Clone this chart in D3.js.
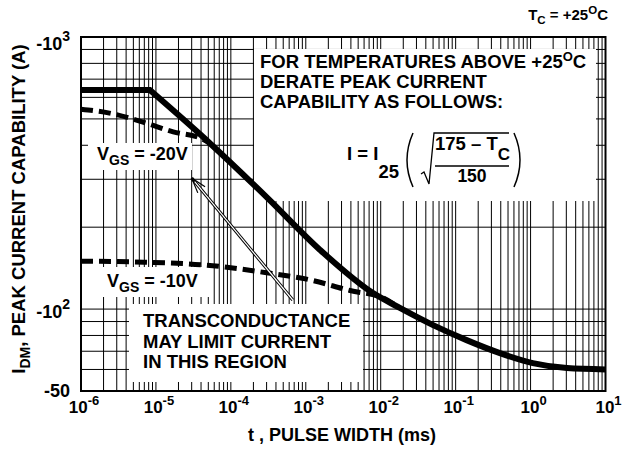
<!DOCTYPE html>
<meta charset="utf-8">
<html>
<head>
<style>
  body { margin: 0; background: #fff; }
  text { font-family: "Liberation Sans", Arial, sans-serif; font-weight: bold; fill: #000; }
</style>
</head>
<body>
<div id="chart"></div>
<script src="https://d3js.org/d3.v7.min.js"></script>
<script>
// pulse width (ms) vs peak current magnitude (A)
var solidT = [1e-6, 8.3e-6, 5.2e-5, 3.0e-4, 1.55e-3, 7.9e-3, 0.018, 0.05, 0.14, 0.39, 1.07, 3.06, 10];
var solidI = [638, 638, 408, 258, 165, 114.5, 101, 87.3, 76.9, 68.9, 63.3, 60.7, 60];

var vgs20T = [1e-6, 2.4e-6, 6.7e-6, 1.7e-5, 3.9e-5, 5.2e-5];
var vgs20I = [543, 525, 487, 448, 425, 408];

var vgs10T = [1e-6, 4.9e-6, 4.8e-5, 3.0e-4, 1.15e-3, 3.9e-3, 0.0107, 0.016];
var vgs10I = [150, 149, 145, 136, 128, 117, 110, 103];

// axis ticks
var xDecades = [1e-6, 1e-5, 1e-4, 1e-3, 1e-2, 1e-1, 1e0, 1e1];
var xExp = ["-6", "-5", "-4", "-3", "-2", "-1", "0", "1"];
var yTicks = [1000, 100, 50];
var yBase = ["-10", "-10", "-50"];
var yExp = ["3", "2", ""];

// annotation text
var noteLines = ["FOR TEMPERATURES ABOVE +25", "DERATE PEAK CURRENT", "CAPABILITY AS FOLLOWS:"];
var regionLines = ["TRANSCONDUCTANCE", "MAY LIMIT CURRENT", "IN THIS REGION"];
// arrow from the region note up to the curves (tail, tip)
var arrowT = [6.7e-4, 3.0e-5];
var arrowI = [108, 303];

var W = 625, H = 450;
var margin = {top: 37, right: 19.5, bottom: 59, left: 81};

var svg = d3.select("#chart").append("svg")
    .attr("width", W).attr("height", H);

var x = d3.scaleLog().domain([1e-6, 10]).range([margin.left, W - margin.right]);
var y = d3.scaleLog().domain([50, 1000]).range([H - margin.bottom, margin.top]);

// grid
var vLines = [];
for (var e = -6; e < 1; e++) {
  for (var k = 1; k <= 9; k++) vLines.push(k * Math.pow(10, e));
}
vLines.push(10);
var hLines = [50, 60, 70, 80, 90, 100, 200, 300, 400, 500, 600, 700, 800, 900, 1000];

var grid = svg.append("g").attr("stroke", "#000").attr("stroke-width", 1);
grid.selectAll(".v").data(vLines).enter().append("line")
    .attr("x1", d => x(d)).attr("x2", d => x(d))
    .attr("y1", y(1000)).attr("y2", y(50));
grid.selectAll(".h").data(hLines).enter().append("line")
    .attr("y1", d => y(d)).attr("y2", d => y(d))
    .attr("x1", x(1e-6)).attr("x2", x(10));

// white boxes behind notes
svg.append("rect").attr("x", 254).attr("y", 49).attr("width", 342).attr("height", 152).attr("fill", "#fff");
svg.append("rect").attr("x", 88).attr("y", 143).attr("width", 104).attr("height", 27).attr("fill", "#fff");
svg.append("rect").attr("x", 100).attr("y", 267).attr("width", 110).attr("height", 30).attr("fill", "#fff");
svg.append("rect").attr("x", 129).attr("y", 304).attr("width", 234).attr("height", 78).attr("fill", "#fff");

// frame
svg.append("rect")
    .attr("x", x(1e-6)).attr("y", y(1000))
    .attr("width", x(10) - x(1e-6)).attr("height", y(50) - y(1000))
    .attr("fill", "none").attr("stroke", "#000").attr("stroke-width", 2);

// curves
function pts(T, I) { return T.map((t, i) => [x(t), y(I[i])]); }

var smooth = d3.line().curve(d3.curveMonotoneX);
var sp = pts(solidT, solidI);
// keep the sharp knee: flat part straight, then the smooth fall
var solidPath = "M" + sp[0][0] + "," + sp[0][1] + "L" + smooth(sp.slice(1)).slice(1);
svg.append("path").attr("d", solidPath)
    .attr("fill", "none").attr("stroke", "#000").attr("stroke-width", 6)
    .attr("stroke-linejoin", "miter");

[[vgs20T, vgs20I], [vgs10T, vgs10I]].forEach(function(s) {
  svg.append("path").attr("d", smooth(pts(s[0], s[1])))
      .attr("fill", "none").attr("stroke", "#000").attr("stroke-width", 5)
      .attr("stroke-dasharray", "12,6");
});

// arrow: hollow shaft
var tail = [x(arrowT[0]), y(arrowI[0])], tip = [x(arrowT[1]), y(arrowI[1])];
svg.append("line").attr("x1", tail[0]).attr("y1", tail[1]).attr("x2", tip[0]).attr("y2", tip[1])
    .attr("stroke", "#000").attr("stroke-width", 3.2);
svg.append("line").attr("x1", tail[0]).attr("y1", tail[1]).attr("x2", tip[0] + 3).attr("y2", tip[1] + 3.5)
    .attr("stroke", "#fff").attr("stroke-width", 1.2);
var ang = Math.atan2(tail[1] - tip[1], tail[0] - tip[0]);
[-0.3, 0.3].forEach(function(da) {
  svg.append("line").attr("x1", tip[0]).attr("y1", tip[1])
      .attr("x2", tip[0] + 16 * Math.cos(ang + da)).attr("y2", tip[1] + 16 * Math.sin(ang + da))
      .attr("stroke", "#000").attr("stroke-width", 1.2);
});

// x tick labels
var xl = svg.append("g").attr("font-size", 17).attr("text-anchor", "middle");
xDecades.forEach(function(d, i) {
  var t = xl.append("text").attr("x", x(d) + 3).attr("y", 413);
  t.append("tspan").text("10");
  t.append("tspan").attr("dy", -8).attr("font-size", 13).text(xExp[i]);
});

// y tick labels
var yOff = [13, 9, 6];
var yl = svg.append("g").attr("font-size", 18).attr("text-anchor", "end");
yTicks.forEach(function(d, i) {
  var t = yl.append("text").attr("x", 70).attr("y", y(d) + yOff[i]);
  t.append("tspan").text(yBase[i]);
  if (yExp[i]) t.append("tspan").attr("dy", -9).attr("font-size", 14).text(yExp[i]);
});

// axis titles
svg.append("text").attr("x", 342).attr("y", 441).attr("font-size", 18)
    .attr("text-anchor", "middle").text("t , PULSE WIDTH (ms)");
var yt = svg.append("text").attr("transform", "translate(25,209) rotate(-90)")
    .attr("font-size", 18.5).attr("text-anchor", "middle");
yt.append("tspan").text("I");
yt.append("tspan").attr("dy", 5).attr("font-size", 14).text("DM");
yt.append("tspan").attr("dy", -5).text(", PEAK CURRENT CAPABILITY (A)");

// case temperature
var tc = svg.append("text").attr("x", 608).attr("y", 20).attr("font-size", 15).attr("text-anchor", "end");
tc.append("tspan").text("T");
tc.append("tspan").attr("dy", 4).attr("font-size", 11.5).text("C");
tc.append("tspan").attr("dy", -4).text(" = +25");
tc.append("tspan").attr("dy", -6).attr("font-size", 11.5).text("O");
tc.append("tspan").attr("dy", 6).text("C");

// derating note
var nt = svg.append("g").attr("font-size", 18.5);
noteLines.forEach(function(s, i) {
  var t = nt.append("text").attr("x", 260).attr("y", 68 + i * 20);
  t.append("tspan").text(s);
  if (i === 0) {
    t.append("tspan").attr("dy", -7).attr("font-size", 13).text("O");
    t.append("tspan").attr("dy", 7).text("C");
  }
});

// formula I = I25 ( sqrt((175 - Tc)/150) )
var f = svg.append("g").attr("font-size", 18.5);
var f1 = f.append("text").attr("x", 347).attr("y", 160);
f1.append("tspan").text("I  =  I");
f1.append("tspan").attr("dy", 18).text("25");
var num = f.append("text").attr("x", 435).attr("y", 150);
num.append("tspan").text("175 \u2013 T");
num.append("tspan").attr("dy", 10).attr("font-size", 17).text("C");
f.append("text").attr("x", 472).attr("y", 182).attr("font-size", 17.5).attr("text-anchor", "middle").text("150");
f.append("line").attr("x1", 435).attr("x2", 509).attr("y1", 166).attr("y2", 166)
    .attr("stroke", "#000").attr("stroke-width", 1.5);
f.append("path").attr("d", "M421,174 L424,172 L429,184 L434,133 L509,133")
    .attr("fill", "none").attr("stroke", "#000").attr("stroke-width", 1.3);
f.append("path").attr("d", "M413,133 Q401,160 413,187")
    .attr("fill", "none").attr("stroke", "#000").attr("stroke-width", 1.5);
f.append("path").attr("d", "M514,133 Q526,160 514,187")
    .attr("fill", "none").attr("stroke", "#000").attr("stroke-width", 1.5);

// VGS labels
function vgsLabel(xp, yp, val) {
  var t = svg.append("text").attr("x", xp).attr("y", yp).attr("font-size", 18);
  t.append("tspan").text("V");
  t.append("tspan").attr("dy", 5).attr("font-size", 14).text("GS");
  t.append("tspan").attr("dy", -5).text(" = " + val);
}
vgsLabel(97, 160, "-20V");
vgsLabel(107, 287, "-10V");

// transconductance note
var rg = svg.append("g").attr("font-size", 18.5);
regionLines.forEach(function(s, i) {
  rg.append("text").attr("x", 143).attr("y", 327 + i * 20.5).text(s);
});
</script>
</body>
</html>
